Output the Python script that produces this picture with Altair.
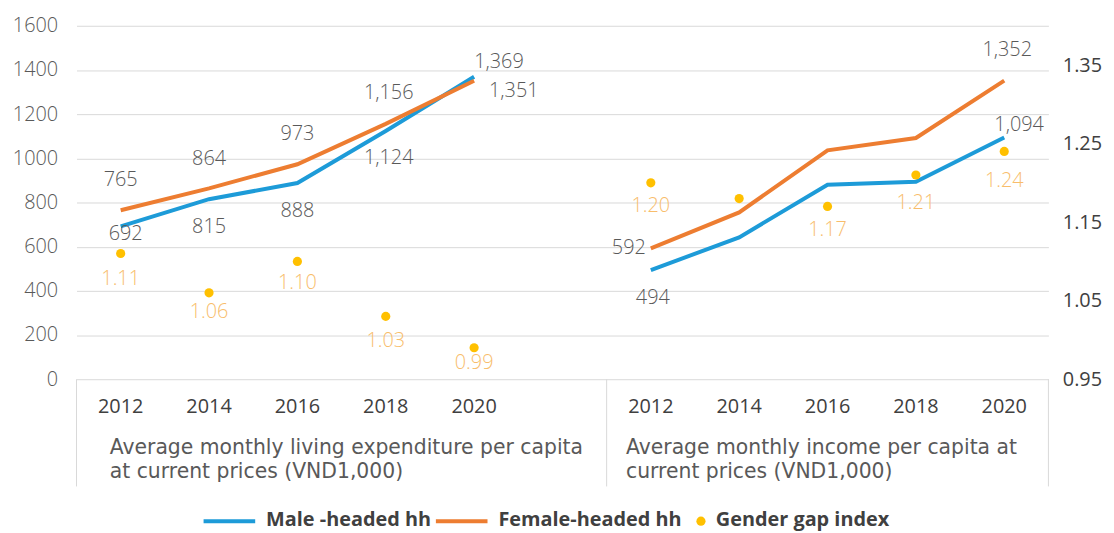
import altair as alt
import pandas as pd

# ---------------- data ----------------
years = ["2012", "2014", "2016", "2018", "2020"]
group_lines = [
    ["Average monthly living expenditure per capita", "at current prices (VND1,000)"],
    ["Average monthly income per capita at", "current prices (VND1,000)"],
]
series_names = ["Male -headed hh", "Female-headed hh", "Gender gap index"]

male_exp = [692, 815, 888, 1124, 1369]
female_exp = [765, 864, 973, 1156, 1351]
gap_exp = [1.11, 1.06, 1.10, 1.03, 0.99]

male_inc = [494, 642, 880, 894, 1094]
female_inc = [592, 755, 1036, 1092, 1352]
gap_inc = [1.20, 1.18, 1.17, 1.21, 1.24]

# which values carry a data label, in slot order
male_show = [True, True, True, True, True, True, False, False, False, True]
female_show = [True, True, True, True, True, True, False, False, False, True]
gap_show = [True, True, True, True, True, True, False, True, True, True]

# ---------------- layout / style (not data) ----------------
male_place = [(5, 8, "center"), (0, 28, "center"), (0, 28, "center"), (3, 27, "center"),
              (25, -15, "center"), (2, 28, "center"), None, None, None, (15, -13, "center")]
female_place = [(0, -30, "center"), (0, -30, "center"), (0, -30, "center"), (3, -31, "center"),
                (15, 10, "left"), (-5, 0, "right"), None, None, None, (3, -31, "center")]
gap_dy = [26, 19, 22, 25, 15, 23, 0, 24, 28, 30]

BLUE = "#1D9BD8"
ORANGE = "#ED7D31"
GOLD = "#FFC000"
GAPTXT = "#F8BD6B"
GRID = "#D9D9D9"
GREY = "#595959"
DARK = "#404040"
FONT = "Open Sans"

# ---------------- tables ----------------
rows = []
for g, (m, f, gp) in enumerate([(male_exp, female_exp, gap_exp), (male_inc, female_inc, gap_inc)]):
    for j, yr in enumerate(years):
        k = g * 5 + j
        rows.append(dict(idx=g * 6 + j, year=yr, group=g, male=m[j], female=f[j], gap=gp[j], k=k))
df = pd.DataFrame(rows)

x_scale = alt.Scale(domain=[-0.5, 10.5], nice=False, zero=False)
y_left = alt.Scale(domain=[0, 1600], nice=False, zero=True)
y_right = alt.Scale(domain=[0.95, 1.40], nice=False, zero=False)
X = alt.X("idx:Q", scale=x_scale, axis=None)

left_axis = alt.Axis(values=list(range(0, 1601, 200)), format="d", grid=True, gridColor=GRID,
                     gridWidth=1, domain=False, ticks=False, labelPadding=19, labelFont=FONT,
                     labelFontSize=20, labelFontWeight=300, labelColor=GREY, orient="left",
                     title=None)
right_axis = alt.Axis(values=[0.95, 1.05, 1.15, 1.25, 1.35], format=".2f", grid=False,
                      domain=False, ticks=False, labelPadding=14, labelFont=FONT, labelFontSize=20,
                      labelColor=DARK, orient="right", title=None)


def YL(field):
    return alt.Y(f"{field}:Q", scale=y_left, axis=left_axis)


def YR(field):
    return alt.Y(f"{field}:Q", scale=y_right, axis=right_axis)


male_line = alt.Chart(df).mark_line(strokeWidth=4, color=BLUE).encode(
    x=X, y=YL("male"), detail="group:N")
female_line = alt.Chart(df).mark_line(strokeWidth=4, color=ORANGE).encode(
    x=X, y=YL("female"), detail="group:N")

label_layers = []
for field, show, place in [("male", male_show, male_place), ("female", female_show, female_place)]:
    combos = {}
    for k in range(len(show)):
        if show[k] and place[k] is not None:
            combos.setdefault(place[k], []).append(k)
    for (dx, dy, align), ks in combos.items():
        sub = df[df["k"].isin(ks)]
        label_layers.append(
            alt.Chart(sub).mark_text(dx=dx, dy=dy, align=align, baseline="middle", font=FONT,
                                     fontSize=20, fontWeight=300, color=GREY).encode(
                x=X, y=YL(field), text=alt.Text(f"{field}:Q", format=",")))

year_layer = alt.Chart(df).mark_text(baseline="alphabetic", font=FONT, fontSize=20,
                                     color=DARK).encode(x=X, y=alt.value(390), text="year:N")

group_layers = []
group_dx = [-11, -25]
for g, lines in enumerate(group_lines):
    for li, txt in enumerate(lines):
        d = pd.DataFrame({"idx": [g * 6], "t": [txt]})
        group_layers.append(
            alt.Chart(d).mark_text(align="left", baseline="alphabetic", dx=group_dx[g],
                                   font="DejaVu Sans", fontSize=20.5, color=GREY).encode(
                x=X, y=alt.value(431 + 25 * li), text="t:N"))

bounds = pd.DataFrame({"b": [-0.5, 5.5, 10.5]})
frame = alt.Chart(bounds).mark_rule(color=GRID, strokeWidth=1).encode(
    x=alt.X("b:Q", scale=x_scale, axis=None), y=alt.value(356), y2=alt.value(464))

one = pd.DataFrame({"a": [0]})
leg = [
    alt.Chart(one).mark_rule(color=BLUE, strokeWidth=4).encode(
        x=alt.value(128), x2=alt.value(180), y=alt.value(499)),
    alt.Chart(one).mark_text(align="left", baseline="middle", font=FONT, fontWeight="bold",
                             fontSize=20, color=DARK).encode(
        x=alt.value(191), y=alt.value(498), text=alt.value(series_names[0])),
    alt.Chart(one).mark_rule(color=ORANGE, strokeWidth=4).encode(
        x=alt.value(362), x2=alt.value(414), y=alt.value(499)),
    alt.Chart(one).mark_text(align="left", baseline="middle", font=FONT, fontWeight="bold",
                             fontSize=20, color=DARK).encode(
        x=alt.value(425), y=alt.value(498), text=alt.value(series_names[1])),
    alt.Chart(one).mark_circle(size=85, color=GOLD, opacity=1).encode(
        x=alt.value(629), y=alt.value(499)),
    alt.Chart(one).mark_text(align="left", baseline="middle", font=FONT, fontWeight="bold",
                             fontSize=20, color=DARK).encode(
        x=alt.value(644), y=alt.value(498), text=alt.value(series_names[2])),
]

gap_points = alt.Chart(df).mark_circle(size=85, color=GOLD, opacity=1).encode(
    x=X, y=YR("gap"))

gap_layers = []
combos = {}
for k in range(len(gap_show)):
    if gap_show[k]:
        combos.setdefault(gap_dy[k], []).append(k)
for dy, ks in combos.items():
    sub = df[df["k"].isin(ks)]
    gap_layers.append(
        alt.Chart(sub).mark_text(dy=dy, baseline="middle", font=FONT, fontSize=20, fontWeight=300,
                                 color=GAPTXT).encode(
            x=X, y=YR("gap"), text=alt.Text("gap:Q", format=".2f")))

left = alt.layer(male_line, female_line, *label_layers)
right = alt.layer(gap_points, *gap_layers)
deco = alt.layer(year_layer, *group_layers, frame, *leg)

chart = alt.layer(left, right, deco).resolve_scale(y="independent").properties(
    width=979, height=356,
    padding={"left": 69, "top": 16, "right": 58, "bottom": 153},
    autosize=alt.AutoSizeParams(type="none"),
).configure_view(stroke=None)

chart.save("out.html", embed_options={"renderer": "svg", "actions": False})
